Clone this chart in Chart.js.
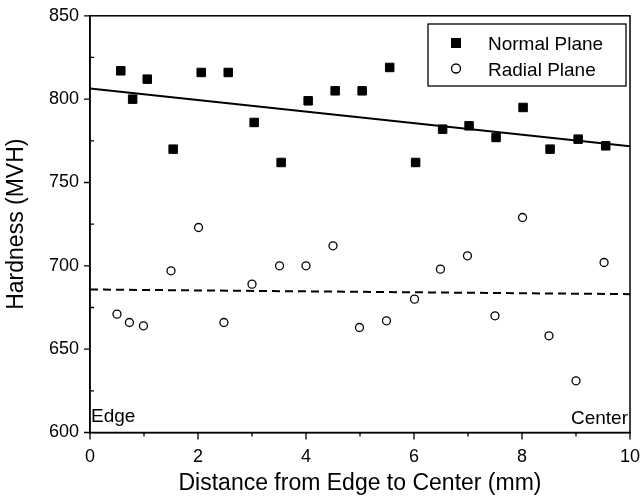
<!DOCTYPE html>
<html>
<head>
<meta charset="utf-8">
<script src="https://cdn.jsdelivr.net/npm/chart.js@4/dist/chart.umd.min.js"></script>
<style>
  html, body { margin: 0; padding: 0; background: #fff; }
  #wrap { width: 640px; height: 501px; }
</style>
</head>
<body>
<div id="wrap"><canvas id="c" width="640" height="501"></canvas></div>
<script>
// ---- data ----
const normalX = [0.57, 0.79, 1.06, 1.54, 2.06, 2.56, 3.04, 3.54, 4.04, 4.54, 5.04, 5.55, 6.03, 6.53, 7.02, 7.52, 8.02, 8.52, 9.04, 9.55];
const normalY = [817, 800, 812, 770, 816, 816, 786, 762, 799, 805, 805, 819, 762, 782, 784, 777, 795, 770, 776, 772];
const radialX = [0.50, 0.73, 0.99, 1.50, 2.01, 2.48, 3.00, 3.51, 4.00, 4.50, 4.99, 5.49, 6.01, 6.49, 6.99, 7.50, 8.01, 8.50, 9.00, 9.52];
const radialY = [671, 666, 664, 697, 723, 666, 689, 700, 700, 712, 663, 667, 680, 698, 706, 670, 729, 658, 631, 702];
const normalFitX = [0, 10];
const normalFitY = [806.4, 771.8];
const radialFitX = [0, 10];
const radialFitY = [685.8, 683.0];
const xTickLabels = ['0', '2', '4', '6', '8', '10'];
const yTickLabels = ['600', '650', '700', '750', '800', '850'];
const seriesNames = ['Normal Plane', 'Radial Plane'];
const xTitle = 'Distance from Edge to Center (mm)';
const yTitle = 'Hardness (MVH)';
const leftNote = 'Edge';
const rightNote = 'Center';

const FONT = "'Liberation Sans', Arial, Helvetica, sans-serif";
const toPts = (xs, ys) => xs.map((x, i) => ({ x: x, y: ys[i] }));

const framePlugin = {
  id: 'frame',
  afterDraw(chart) {
    const ctx = chart.ctx;
    const a = chart.chartArea;
    const xs = chart.scales.x, ys = chart.scales.y;
    ctx.save();
    ctx.strokeStyle = '#000';
    ctx.lineWidth = 1.5;
    ctx.strokeRect(a.left, a.top, a.right - a.left, a.bottom - a.top);
    // tick marks
    ctx.lineWidth = 1.3;
    ctx.beginPath();
    for (let v = 0; v <= 10; v++) {
      const px = xs.getPixelForValue(v);
      const len = xTickLabels.includes(String(v)) ? 7 : 4;
      ctx.moveTo(px, a.bottom);
      ctx.lineTo(px, a.bottom + len);
    }
    for (let v = 600; v <= 850; v += 25) {
      const py = ys.getPixelForValue(v);
      if (yTickLabels.includes(String(v))) {
        ctx.moveTo(a.left - 6, py);
        ctx.lineTo(a.left, py);
      } else {
        ctx.moveTo(a.left, py);
        ctx.lineTo(a.left + 4, py);
      }
    }
    ctx.stroke();
    // Edge / Center notes
    ctx.fillStyle = '#000';
    ctx.font = '19px ' + FONT;
    ctx.textBaseline = 'alphabetic';
    ctx.textAlign = 'left';
    ctx.fillText(leftNote, a.left + 1, a.bottom - 11);
    ctx.textAlign = 'right';
    ctx.fillText(rightNote, a.right - 2, a.bottom - 9);
    // legend box
    const bx = 428, by = 24, bw = 198, bh = 62;
    ctx.lineWidth = 1.3;
    ctx.strokeRect(bx, by, bw, bh);
    const d0 = chart.data.datasets[0], d1 = chart.data.datasets[1];
    // square marker
    ctx.fillStyle = d0.backgroundColor;
    ctx.fillRect(456 - 5, 43 - 5, 10, 10);
    // circle marker
    ctx.beginPath();
    ctx.arc(456, 68.5, 4.5, 0, Math.PI * 2);
    ctx.fillStyle = '#fff';
    ctx.fill();
    ctx.strokeStyle = d1.borderColor;
    ctx.lineWidth = 1.3;
    ctx.stroke();
    ctx.fillStyle = '#000';
    ctx.textAlign = 'left';
    ctx.font = '19px ' + FONT;
    ctx.fillText(seriesNames[0], 488, 50);
    ctx.fillText(seriesNames[1], 488, 76);
    ctx.restore();
  }
};

new Chart(document.getElementById('c'), {
  type: 'scatter',
  data: {
    datasets: [
      {
        label: seriesNames[0],
        data: toPts(normalX, normalY),
        pointStyle: 'rect',
        pointRadius: 6,
        backgroundColor: '#000',
        borderColor: '#000',
        borderWidth: 1,
        order: 1
      },
      {
        label: seriesNames[1],
        data: toPts(radialX, radialY),
        pointStyle: 'circle',
        pointRadius: 4,
        backgroundColor: '#fff',
        borderColor: '#000',
        borderWidth: 1.3,
        order: 1
      },
      {
        label: 'fitN',
        type: 'line',
        data: toPts(normalFitX, normalFitY),
        borderColor: '#000',
        borderWidth: 2,
        pointRadius: 0,
        fill: false,
        order: 2
      },
      {
        label: 'fitR',
        type: 'line',
        data: toPts(radialFitX, radialFitY),
        borderColor: '#000',
        borderWidth: 2,
        borderDash: [8, 5],
        pointRadius: 0,
        fill: false,
        order: 2
      }
    ]
  },
  options: {
    responsive: false,
    animation: false,
    devicePixelRatio: 1,
    layout: { padding: { left: 0, top: 15.5, right: 10, bottom: 0 } },
    plugins: { legend: { display: false }, tooltip: { enabled: false } },
    scales: {
      x: {
        type: 'linear',
        min: 0, max: 10,
        afterFit: s => { s.height = 68.5; s.paddingLeft = 0; s.paddingRight = 0; },
        ticks: {
          stepSize: 1, autoSkip: false, maxRotation: 0, padding: 7,
          color: '#000', font: { family: FONT, size: 18 },
          callback: v => xTickLabels.includes(String(v)) ? String(v) : ''
        },
        grid: { drawOnChartArea: false, color: 'rgba(0,0,0,0)', tickLength: 7 },
        border: { color: '#000', width: 1.5 },
        title: { display: true, text: xTitle, color: '#000', font: { family: FONT, size: 23 }, padding: { top: 0, bottom: 4 } }
      },
      y: {
        type: 'linear',
        min: 600, max: 850,
        afterFit: s => { s.width = 90; },
        ticks: {
          stepSize: 25, autoSkip: false, padding: 5,
          color: '#000', font: { family: FONT, size: 18 },
          callback: v => yTickLabels.includes(String(v)) ? String(v) : ''
        },
        grid: { drawOnChartArea: false, color: 'rgba(0,0,0,0)', tickLength: 6 },
        border: { color: '#000', width: 1.5 },
        title: { display: true, text: yTitle, color: '#000', font: { family: FONT, size: 23 }, padding: { top: 3, bottom: 0 } }
      }
    }
  },
  plugins: [framePlugin]
});
</script>
</body>
</html>
